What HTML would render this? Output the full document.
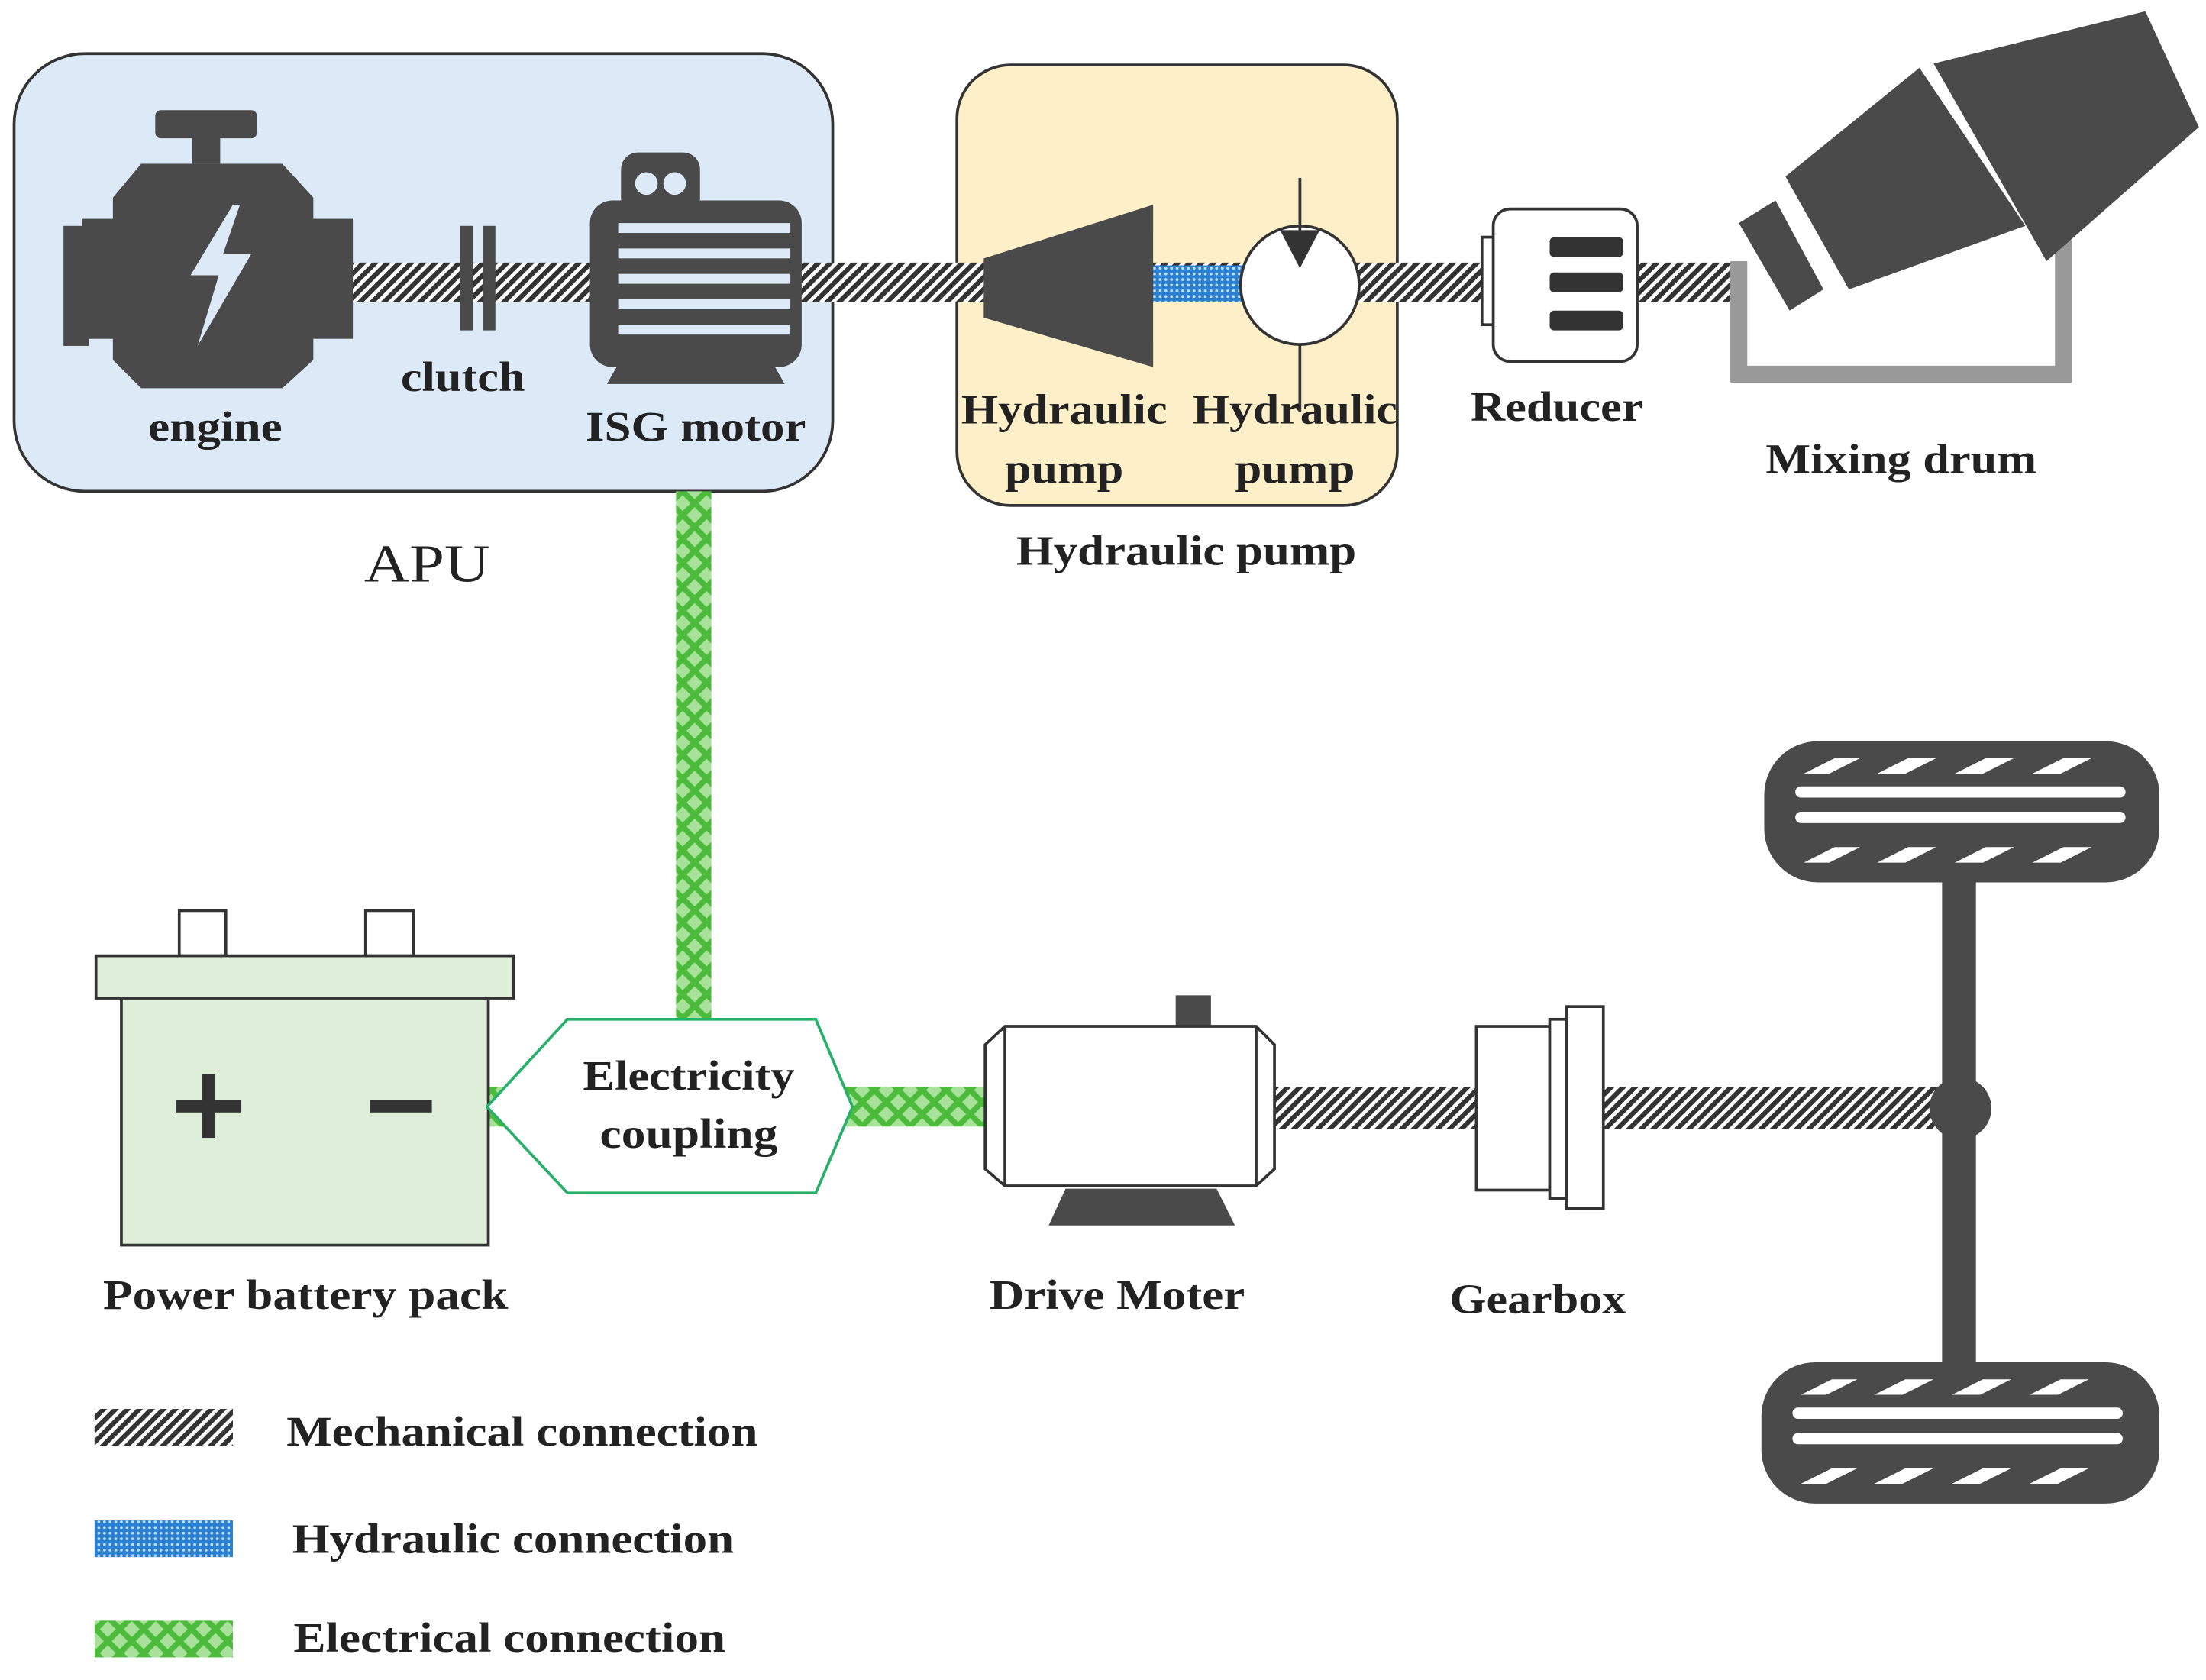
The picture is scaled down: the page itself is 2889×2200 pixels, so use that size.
<!DOCTYPE html>
<html><head><meta charset="utf-8"><style>
html,body{margin:0;padding:0;background:#fff}
svg{display:block}
text{font-family:"Liberation Serif",serif;font-weight:bold;fill:#222}
</style></head><body>
<svg width="2889" height="2200" viewBox="0 0 1563 1190" preserveAspectRatio="none" xmlns="http://www.w3.org/2000/svg">
<defs>
<pattern id="mech" width="6" height="6" patternUnits="userSpaceOnUse" patternTransform="rotate(45)">
<rect width="6" height="6" fill="#fff"/><rect width="3.4" height="6" fill="#333"/></pattern>
<pattern id="hyd" width="4" height="4" patternUnits="userSpaceOnUse">
<rect width="4" height="4" fill="#2a7fd0"/><circle cx="2" cy="2" r="1" fill="#bfe0ff"/></pattern>
<pattern id="elec" width="12" height="12" patternUnits="userSpaceOnUse" patternTransform="rotate(45)">
<rect width="12" height="12" fill="#4cbb3c"/><rect x="2" y="2" width="8" height="8" fill="#a8e29a"/></pattern>
</defs>

<rect x="10" y="38" width="580" height="310" rx="50" fill="#dbeaf6" stroke="#333" stroke-width="2"/>
<rect x="678" y="46" width="312" height="312" rx="38" fill="#fdefc8" stroke="#333" stroke-width="2"/>

<rect x="245" y="186" width="990" height="28" fill="url(#mech)"/>
<rect x="815" y="188" width="66" height="26" fill="url(#hyd)"/>
<rect x="900" y="770" width="475" height="30" fill="url(#mech)"/>
<rect x="479" y="348" width="25" height="375" fill="url(#elec)"/>
<rect x="345" y="770" width="40" height="28" fill="url(#elec)"/>
<rect x="598" y="770" width="102" height="28" fill="url(#elec)"/>

<g fill="#4a4a4a">
<rect x="110" y="78" width="72" height="20" rx="4"/>
<rect x="136" y="96" width="20" height="20"/>
<path d="M100 116 H200 L222 140 V255 L200 275 H100 L80 255 V140 Z"/>
<rect x="58" y="155" width="30" height="85"/>
<rect x="45" y="160" width="18" height="85"/>
<rect x="220" y="155" width="30" height="85"/>
</g>
<path d="M165 145 L135 195 H155 L140 245 L178 180 H158 L170 145 Z" fill="#dbeaf6"/>
<rect x="326" y="160" width="9" height="74" fill="#4a4a4a"/>
<rect x="342" y="160" width="9" height="74" fill="#4a4a4a"/>
<g fill="#4a4a4a">
<rect x="440" y="108" width="56" height="45" rx="12"/>
<rect x="418" y="142" width="150" height="118" rx="16"/>
<path d="M438 258 H548 L556 272 H430 Z"/>
</g>
<circle cx="458" cy="130" r="8" fill="#dbeaf6"/><circle cx="478" cy="130" r="8" fill="#dbeaf6"/>
<g fill="#dbeaf6">
<rect x="438" y="158" width="122" height="7"/><rect x="438" y="176" width="122" height="7"/>
<rect x="438" y="194" width="122" height="7"/><rect x="438" y="212" width="122" height="7"/>
<rect x="438" y="230" width="122" height="7"/>
</g>

<polygon points="697,183 817,145 817,260 697,225" fill="#4a4a4a"/>
<line x1="921" y1="126" x2="921" y2="292" stroke="#333" stroke-width="2"/>
<circle cx="921" cy="202" r="42" fill="#fff" stroke="#333" stroke-width="2"/>
<polygon points="907,163 935,163 921,190" fill="#333"/>
<line x1="921" y1="126" x2="921" y2="165" stroke="#333" stroke-width="2"/>

<rect x="1050" y="168" width="14" height="62" fill="#fff" stroke="#333" stroke-width="2"/>
<rect x="1058" y="148" width="102" height="108" rx="12" fill="#fff" stroke="#333" stroke-width="2"/>
<rect x="1098" y="168" width="52" height="14" rx="3" fill="#333"/>
<rect x="1098" y="193" width="52" height="14" rx="3" fill="#333"/>
<rect x="1098" y="220" width="52" height="14" rx="3" fill="#333"/>

<path d="M1232 185 V265 H1462 V170" fill="none" stroke="#999" stroke-width="12"/>
<g fill="#4a4a4a">
<polygon points="1232,158 1258,142 1292,205 1268,220"/>
<polygon points="1265,125 1360,48 1435,160 1310,205"/>
<polygon points="1370,45 1520,8 1558,90 1450,185"/>
</g>

<rect x="127" y="645" width="33" height="32" fill="#fff" stroke="#333" stroke-width="2"/>
<rect x="259" y="645" width="34" height="32" fill="#fff" stroke="#333" stroke-width="2"/>
<rect x="68" y="677" width="296" height="30" fill="#dfeed9" stroke="#333" stroke-width="2"/>
<rect x="86" y="707" width="260" height="175" fill="#dfeed9" stroke="#333" stroke-width="2"/>
<rect x="125" y="779" width="46" height="9" fill="#333"/>
<rect x="143" y="761" width="9" height="45" fill="#333"/>
<rect x="262" y="779" width="44" height="9" fill="#333"/>

<polygon points="345,784 402,722 578,722 604,784 578,845 402,845" fill="#fff" stroke="#27b06a" stroke-width="2"/>
<text x="413" y="772" font-size="30" textLength="150" lengthAdjust="spacingAndGlyphs">Electricity</text>
<text x="425" y="813" font-size="30" textLength="126" lengthAdjust="spacingAndGlyphs">coupling</text>

<rect x="833" y="705" width="25" height="22" fill="#4a4a4a"/>
<path d="M712 727 H890 L903 740 V828 L890 840 H712 L698 828 V740 Z" fill="#fff" stroke="#333" stroke-width="2"/>
<line x1="712" y1="727" x2="712" y2="840" stroke="#333" stroke-width="2"/>
<line x1="890" y1="727" x2="890" y2="840" stroke="#333" stroke-width="2"/>
<polygon points="755,842 862,842 875,868 743,868" fill="#4a4a4a"/>

<rect x="1046" y="727" width="52" height="116" fill="#fff" stroke="#333" stroke-width="2"/>
<rect x="1098" y="722" width="12" height="127" fill="#fff" stroke="#333" stroke-width="2"/>
<rect x="1110" y="713" width="26" height="143" fill="#fff" stroke="#333" stroke-width="2"/>

<rect x="1376" y="620" width="24" height="350" fill="#4a4a4a"/>
<circle cx="1389" cy="785" r="22" fill="#4a4a4a"/>
<g>
<rect x="1250" y="525" width="280" height="100" rx="38" fill="#4a4a4a"/>
<rect x="1272" y="557" width="234" height="8" rx="4" fill="#fff"/>
<rect x="1272" y="575" width="234" height="8" rx="4" fill="#fff"/>
<g fill="#fff"><polygon points="1278,548 1300,537 1318,537 1296,548"/><polygon points="1330,548 1352,537 1372,537 1350,548"/><polygon points="1385,548 1407,537 1427,537 1405,548"/><polygon points="1440,548 1462,537 1482,537 1460,548"/><polygon points="1278,611 1300,600 1318,600 1296,611"/><polygon points="1330,611 1352,600 1372,600 1350,611"/><polygon points="1385,611 1407,600 1427,600 1405,611"/><polygon points="1440,611 1462,600 1482,600 1460,611"/></g>
</g>
<g transform="translate(-2,440)">
<rect x="1250" y="525" width="282" height="100" rx="38" fill="#4a4a4a"/>
<rect x="1272" y="557" width="234" height="8" rx="4" fill="#fff"/>
<rect x="1272" y="575" width="234" height="8" rx="4" fill="#fff"/>
<g fill="#fff"><polygon points="1278,548 1300,537 1318,537 1296,548"/><polygon points="1330,548 1352,537 1372,537 1350,548"/><polygon points="1385,548 1407,537 1427,537 1405,548"/><polygon points="1440,548 1462,537 1482,537 1460,548"/><polygon points="1278,611 1300,600 1318,600 1296,611"/><polygon points="1330,611 1352,600 1372,600 1350,611"/><polygon points="1385,611 1407,600 1427,600 1405,611"/><polygon points="1440,611 1462,600 1482,600 1460,611"/></g>
</g>

<g font-size="30">
<text x="105" y="312" textLength="95" lengthAdjust="spacingAndGlyphs">engine</text>
<text x="284" y="277" textLength="88" lengthAdjust="spacingAndGlyphs">clutch</text>
<text x="415" y="312" textLength="156" lengthAdjust="spacingAndGlyphs">ISG motor</text>
<text x="681" y="300" textLength="146" lengthAdjust="spacingAndGlyphs">Hydraulic</text>
<text x="712" y="342" textLength="84" lengthAdjust="spacingAndGlyphs">pump</text>
<text x="845" y="300" textLength="145" lengthAdjust="spacingAndGlyphs">Hydraulic</text>
<text x="875" y="342" textLength="85" lengthAdjust="spacingAndGlyphs">pump</text>
<text x="720" y="400" textLength="241" lengthAdjust="spacingAndGlyphs">Hydraulic pump</text>
<text x="1042" y="298" textLength="122" lengthAdjust="spacingAndGlyphs">Reducer</text>
<text x="1251" y="335" textLength="192" lengthAdjust="spacingAndGlyphs">Mixing drum</text>
<text x="73" y="927" textLength="287" lengthAdjust="spacingAndGlyphs">Power battery pack</text>
<text x="701" y="927" textLength="181" lengthAdjust="spacingAndGlyphs">Drive Moter</text>
<text x="1027" y="930" textLength="125" lengthAdjust="spacingAndGlyphs">Gearbox</text>
<text x="203" y="1024" textLength="334" lengthAdjust="spacingAndGlyphs">Mechanical connection</text>
<text x="207" y="1100" textLength="313" lengthAdjust="spacingAndGlyphs">Hydraulic connection</text>
<text x="208" y="1170" textLength="306" lengthAdjust="spacingAndGlyphs">Electrical connection</text>
</g>
<text x="258" y="412" font-size="38" style="font-weight:normal" textLength="89" lengthAdjust="spacingAndGlyphs">APU</text>

<rect x="67" y="998" width="98" height="26" fill="url(#mech)"/>
<rect x="67" y="1077" width="98" height="26" fill="url(#hyd)"/>
<rect x="67" y="1148" width="98" height="26" fill="url(#elec)"/>
</svg>
</body></html>
